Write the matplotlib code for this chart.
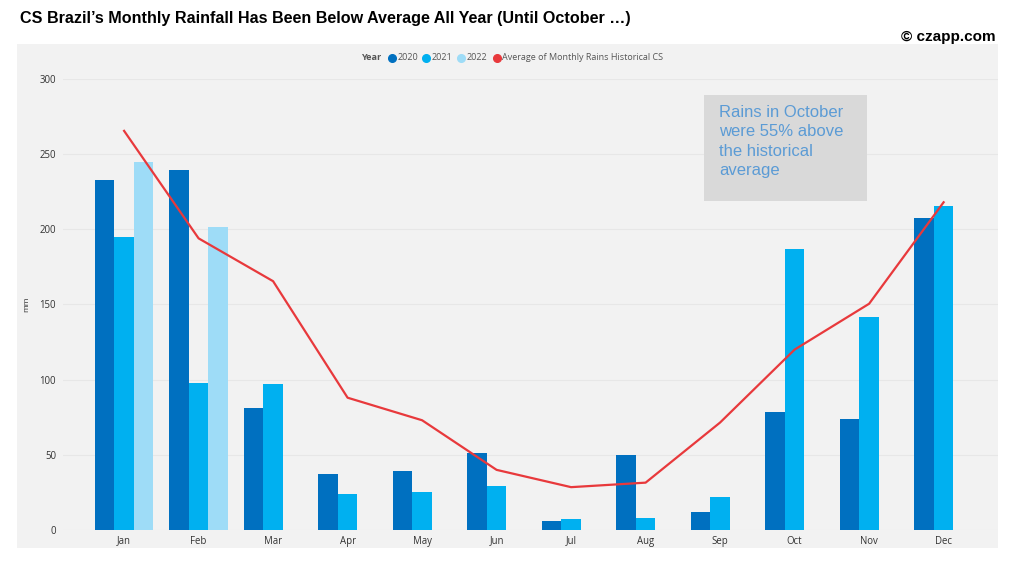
import numpy as np
import matplotlib.pyplot as plt
from matplotlib.lines import Line2D
from matplotlib.patches import Rectangle

months = ["Jan", "Feb", "Mar", "Apr", "May", "Jun", "Jul", "Aug", "Sep", "Oct", "Nov", "Dec"]
rain_2020 = [233, 239.5, 81, 37, 39, 51, 6, 50, 12, 78.5, 74, 207.5]
rain_2021 = [195, 98, 97, 24, 25, 29, 7.5, 8, 22, 187, 142, 215.5]
rain_2022 = [245, 201.5, np.nan, np.nan, np.nan, np.nan, np.nan, np.nan, np.nan, np.nan, np.nan, np.nan]
avg_hist = [265.5, 194, 165.5, 88, 73, 40, 28.5, 31.5, 71.5, 120, 150.5, 218]
series_names = ["2020", "2021", "2022"]
colors = ["#0070c0", "#00b0f0", "#9edcf7"]
line_color = "#e8393c"

plt.rcParams['font.family'] = ['Liberation Sans', 'DejaVu Sans']
small_font = ['Open Sans', 'DejaVu Sans']

W, H = 1018, 561
fig = plt.figure(figsize=(W / 100, H / 100), dpi=100)
fig.patch.set_facecolor("white")

def fx(px):
    return px / W

def fy(py):
    return 1 - py / H

# panel background
bg = fig.add_axes([fx(17), fy(548), fx(998 - 17), (548 - 44) / H], zorder=-1)
bg.set_facecolor("#f2f2f2")
bg.set_xticks([])
bg.set_yticks([])
for s in bg.spines.values():
    s.set_visible(False)

ax = fig.add_axes([fx(63), fy(530), fx(998 - 63), (530 - 79) / H], zorder=1)
ax.set_facecolor("none")
x = np.arange(len(months))
bw = 0.262
for i, (vals, c) in enumerate(zip([rain_2020, rain_2021, rain_2022], colors)):
    ax.bar(x + (i - 1) * bw, vals, width=bw, color=c, zorder=2, linewidth=0)
ax.plot(x, avg_hist, color=line_color, linewidth=1.6, zorder=3)

ax.set_ylim(0, 300)
ax.set_xlim(-0.82, 11.73)
ax.set_yticks([0, 50, 100, 150, 200, 250, 300])
ax.set_xticks(x)
ax.set_xticklabels(months)
ax.tick_params(axis="both", length=0, labelsize=6.9, colors="#333333")
ax.tick_params(axis="y", pad=5)
ax.tick_params(axis="x", pad=4)
for lab in ax.get_xticklabels() + ax.get_yticklabels():
    lab.set_family(small_font)
ax.grid(axis="y", color="#e7e7e7", linewidth=0.8, zorder=0)
ax.set_axisbelow(True)
for s in ax.spines.values():
    s.set_visible(False)
ax.set_ylabel("mm", fontsize=6, color="#333333", family=small_font)
ax.yaxis.set_label_coords((30 - 63) / (998 - 63), 0.5)

# Title
fig.text(fx(20), fy(18), "CS Brazil\u2019s Monthly Rainfall Has Been Below Average All Year (Until October \u2026)",
         fontsize=11.6, fontweight="bold", ha="left", va="center", color="black")
fig.text(fx(996), fy(37), "\u00a9 czapp.com", fontsize=11, fontweight="bold",
         ha="right", va="center", color="black")

# Legend
ly = fy(58)
fig.text(fx(381), ly, "Year", fontsize=6.6, fontweight="bold", color="#555555",
         ha="right", va="center", family=small_font)
items = [("2020", colors[0]), ("2021", colors[1]), ("2022", colors[2]),
         ("Average of Monthly Rains Historical CS", line_color)]
xpos = [392, 426, 461, 497]
for (lab, c), px in zip(items, xpos):
    fig.lines.append(Line2D([fx(px)], [ly], marker="o", markersize=5.5, color=c,
                            transform=fig.transFigure, linestyle="none"))
    fig.text(fx(px + 5.5), ly, lab, fontsize=6.5, color="#555555", ha="left",
             va="center", family=small_font)

# Annotation box
fig.patches.append(Rectangle((fx(704), fy(201)), fx(867 - 704), (201 - 95) / H,
                             transform=fig.transFigure, facecolor="#d9d9d9",
                             edgecolor="none", zorder=5))
fig.text(fx(719), fy(105), "Rains in October\nwere 55% above\nthe historical\naverage",
         fontsize=12, color="#5b9bd5", ha="left", va="top", linespacing=1.36, zorder=6)

fig.savefig("out.png", dpi=100)
